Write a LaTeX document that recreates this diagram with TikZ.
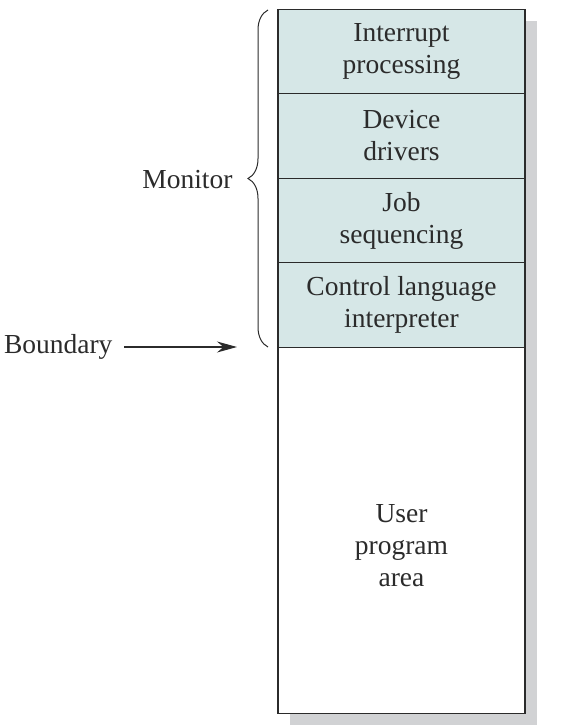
\documentclass[tikz,border=0pt]{standalone}
\usepackage{fontspec}
\setmainfont{Liberation Serif}
\usetikzlibrary{arrows.meta,positioning,decorations.pathreplacing,backgrounds}
\definecolor{monfill}{HTML}{D6E7E7}
\definecolor{shadowgray}{HTML}{D1D2D4}
\definecolor{ink}{HTML}{2B2B2B}
\tikzset{>={Stealth[length=20pt,width=11pt]},
  every node/.style={font=\fontsize{27.5}{32}\selectfont,text=ink,align=center},
  part/.style={draw=ink,line width=1.3pt,fill=monfill,minimum width=247pt,minimum height=84.5pt,inner sep=0pt,outer sep=0pt},
  userpart/.style={part,fill=white,minimum height=366pt},
  brc/.style={draw=ink,line width=1pt,decorate,decoration={brace,amplitude=20pt}},
  pointer/.style={->,draw=ink,line width=1.3pt}}
\begin{document}
\begin{tikzpicture}[x=1pt,y=-1pt]
\useasboundingbox (0,0) rectangle (560,728);
\node[part] (irq) at (401.5,51.5) {Interrupt\\processing};
\node[part,below=0pt of irq] (drv) {Device\\drivers};
\node[part,below=0pt of drv] (job) {Job\\sequencing};
\node[part,below=0pt of job] (cli) {Control language\\interpreter};
\node[userpart,below=0pt of cli] (user) {\raisebox{-24pt}[0pt][0pt]{\begin{tabular}{@{}c@{}}User\\program\\area\end{tabular}}};
\begin{scope}[on background layer]
\fill[shadowgray] ([shift={(12pt,-12pt)}]irq.north west) rectangle ([shift={(12pt,-12pt)}]user.south east);
\end{scope}
% monitor brace and boundary arrow
\coordinate (btop) at (268,10);\coordinate (bbot) at (268,347);
\draw[brc] (bbot)--(btop);
\node[anchor=east] (monitor) at (236,180) {Monitor};
\node[anchor=east] (boundary) at (116,347) {Boundary};
\coordinate (bend) at (237,347);
\draw[pointer] ([xshift=8pt]boundary.east)--(bend);
\end{tikzpicture}
\end{document}
